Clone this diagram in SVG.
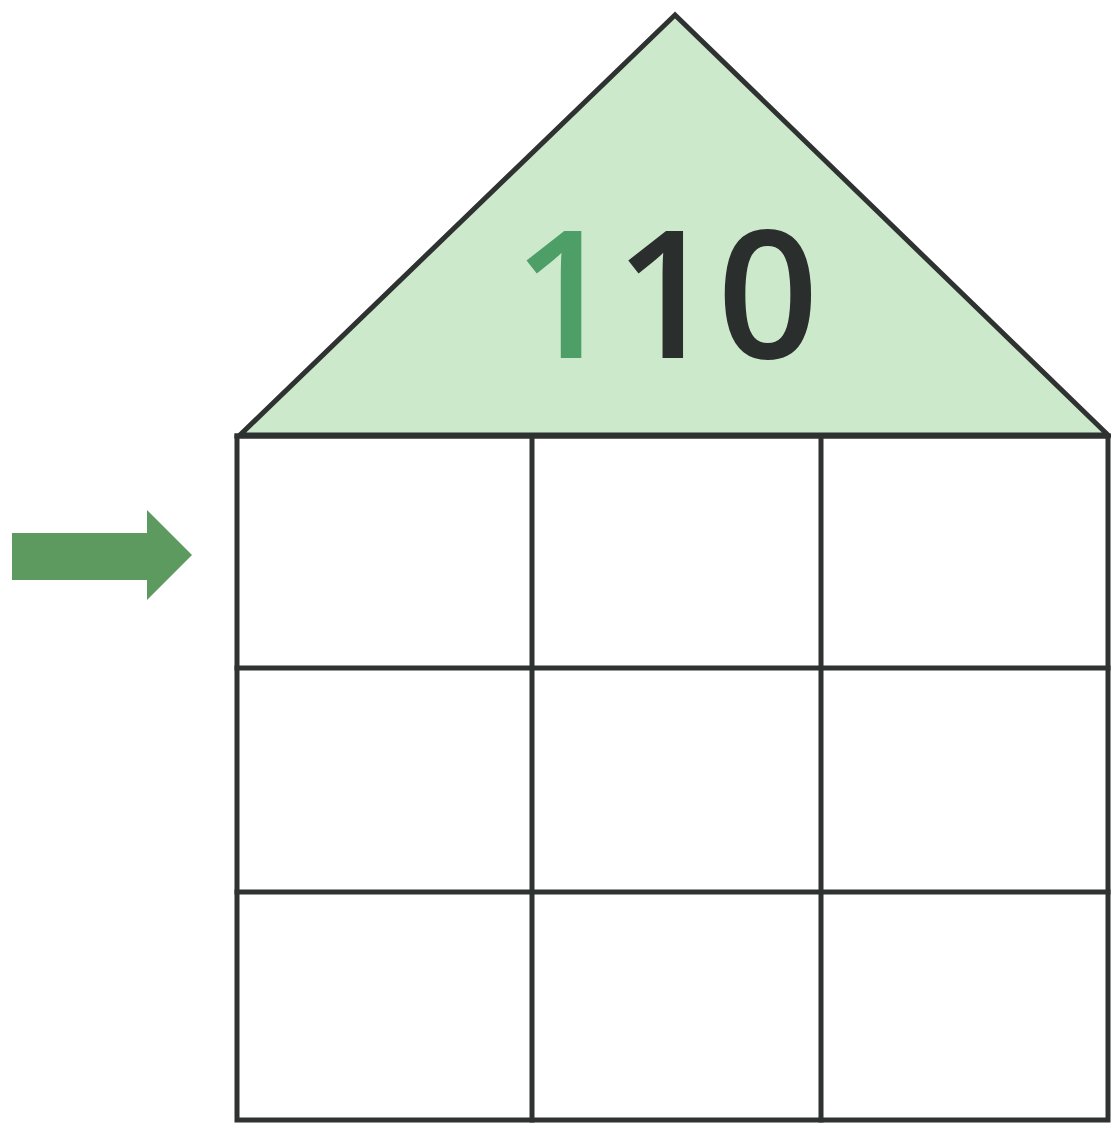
<svg xmlns="http://www.w3.org/2000/svg" width="1111" height="1127" viewBox="0 0 1111 1127">
<style>
.ln{stroke:#2e3230;stroke-width:5;fill:none;stroke-linecap:square}
.num{font-family:"Open Sans","Liberation Sans",sans-serif;font-weight:600;font-size:178px}
</style>
<rect width="1111" height="1127" fill="#ffffff"/>
<g id="roof">
<polygon points="675,15 240,435 1108,435" fill="#cde9cc" stroke="#2e3230" stroke-width="5" stroke-linejoin="miter"/>
<text class="num" x="666" y="358" text-anchor="middle"><tspan fill="#4e9e68">1</tspan><tspan fill="#2a2e2c">10</tspan></text>
</g>
<g id="grid">
<rect class="ln" x="237" y="436" width="871" height="684"/>
<line class="ln" x1="237" y1="436" x2="1108" y2="436" stroke-width="7"/>
<line class="ln" x1="532" y1="436" x2="532" y2="1120"/>
<line class="ln" x1="821" y1="436" x2="821" y2="1120"/>
<line class="ln" x1="237" y1="668" x2="1108" y2="668"/>
<line class="ln" x1="237" y1="892" x2="1108" y2="892"/>
</g>
<g id="arrow">
<polygon points="12,533 147,533 147,510 192,555 147,600 147,580 12,580" fill="#5c9a5f"/>
</g>
</svg>
